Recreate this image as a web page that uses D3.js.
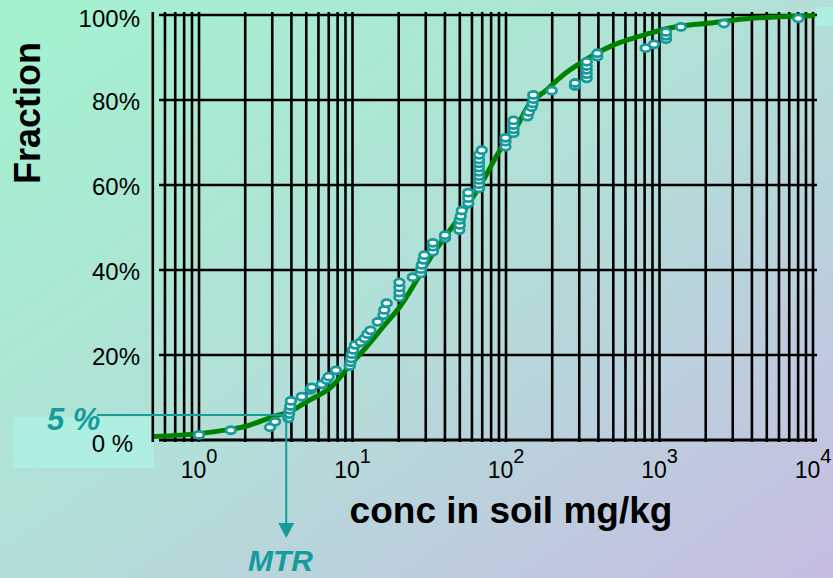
<!DOCTYPE html>
<html>
<head>
<meta charset="utf-8">
<script src="https://cdn.jsdelivr.net/npm/d3@7"></script>
<style>
  body { margin: 0; }
  text { font-family: "Liberation Sans", Arial, sans-serif; }
</style>
</head>
<body>
<script>
// measured concentrations (mg/kg) and their cumulative fraction
var pointConc = [1.0, 1.61, 2.9, 3.13, 3.82, 3.86, 3.9, 3.93, 3.97, 4.67, 5.34, 5.42, 6.3, 6.8, 7.0, 7.8,
  9.6, 9.7, 9.8, 9.9, 10.1, 10.4, 11.3, 12.0, 12.5, 13.1, 14.6, 15.9, 16.1, 16.7,
  20.2, 20.2, 20.2, 20.2, 24.7, 27.8, 28.0, 28.3, 29.0, 29.4, 33.4, 33.4, 33.4, 40.1, 40.1,
  49.6, 50.0, 50.0, 50.7, 51.5, 56.8, 56.8, 56.8,
  66.7, 66.7, 66.7, 66.7, 66.7, 66.7, 66.7, 66.7, 66.7, 69.5,
  99.2, 99.2, 99.2, 111.9, 111.9, 111.9, 111.9, 138, 141, 147, 149, 150.6, 150.6, 198.5,
  281.5, 281.5, 335.6, 335.6, 335.6, 335.6, 335.6, 393, 393, 813, 921, 1102, 1102, 1102, 1380, 2630, 8020];
var pointFrac = [0.012, 0.023, 0.030, 0.043, 0.051, 0.061, 0.071, 0.080, 0.092, 0.102, 0.118, 0.124, 0.131, 0.141, 0.149, 0.164,
  0.174, 0.183, 0.192, 0.202, 0.212, 0.224, 0.230, 0.239, 0.249, 0.258, 0.278, 0.294, 0.306, 0.322,
  0.336, 0.347, 0.359, 0.371, 0.383, 0.392, 0.402, 0.412, 0.424, 0.435, 0.443, 0.455, 0.464, 0.475, 0.482,
  0.494, 0.506, 0.518, 0.527, 0.540, 0.557, 0.569, 0.582,
  0.592, 0.602, 0.612, 0.621, 0.631, 0.641, 0.651, 0.660, 0.671, 0.682,
  0.690, 0.702, 0.711, 0.722, 0.731, 0.741, 0.752, 0.761, 0.772, 0.783, 0.792, 0.802, 0.812, 0.822,
  0.833, 0.840, 0.851, 0.861, 0.871, 0.880, 0.890, 0.902, 0.910, 0.922, 0.931, 0.943, 0.951, 0.960, 0.972, 0.980, 0.992];

// fitted distribution (green line)
var curveConc = [0.509, 1.0, 1.59, 2.05, 3.05, 3.91, 5.03, 7.13, 9.63, 12.4, 15.9, 20.4, 26.2, 33.6, 43.2, 55.5,
  71.2, 91.4, 117.4, 143.3, 184, 236, 303, 390, 500, 642, 826, 1059, 1361, 2244, 3700, 6095, 10300];
var curveFrac = [0.008, 0.015, 0.025, 0.033, 0.055, 0.067, 0.090, 0.122, 0.176, 0.220, 0.267, 0.314, 0.376, 0.439, 0.494, 0.549,
  0.612, 0.682, 0.737, 0.792, 0.824, 0.859, 0.886, 0.910, 0.929, 0.943, 0.955, 0.966, 0.974, 0.982, 0.991, 0.996, 0.998];

var yTicks = [0, 0.2, 0.4, 0.6, 0.8, 1];
var yLabels = ["0 %", "20%", "40%", "60%", "80%", "100%"];
var xExps = [0, 1, 2, 3, 4];

var mtrConc = 3.7;
var mtrFrac = 0.059;

var w = 833, h = 578;
var teal = "#169b9b";

var svg = d3.select("body").append("svg")
  .attr("width", w)
  .attr("height", h);

var grad = svg.append("defs").append("linearGradient")
  .attr("id", "bg")
  .attr("x1", "0%").attr("y1", "0%")
  .attr("x2", "100%").attr("y2", "100%");
grad.append("stop").attr("offset", "0%").attr("stop-color", "#a2f3ce");
grad.append("stop").attr("offset", "50%").attr("stop-color", "#b2dfd8");
grad.append("stop").attr("offset", "100%").attr("stop-color", "#c7bde2");

svg.append("rect").attr("width", w).attr("height", h).attr("fill", "url(#bg)");

var x = d3.scaleLog().domain([0.5, 10000]).range([152.8, 813]);
var y = d3.scaleLinear().domain([0, 1]).range([440, 15]);

// pale boxes behind the corner labels
svg.append("rect").attr("x", 13).attr("y", 417).attr("width", 141).attr("height", 51).attr("fill", "#aeefe2");
svg.append("rect").attr("x", 816).attr("y", 7).attr("width", 17).attr("height", 19).attr("fill", "#aeefe2");

// grid
svg.selectAll(".vgrid")
  .data(x.ticks())
  .enter().append("line")
  .attr("x1", function(d) { return x(d); })
  .attr("x2", function(d) { return x(d); })
  .attr("y1", 12)
  .attr("y2", 442)
  .attr("stroke", "#000")
  .attr("stroke-width", 2.6);

svg.selectAll(".hgrid")
  .data(yTicks)
  .enter().append("line")
  .attr("x1", 159)
  .attr("x2", 817)
  .attr("y1", function(d) { return y(d); })
  .attr("y2", function(d) { return y(d); })
  .attr("stroke", "#000")
  .attr("stroke-width", function(d) { return d == 0 ? 3 : 2.6; });

// y labels
svg.selectAll(".ylab")
  .data(yTicks)
  .enter().append("text")
  .attr("x", function(d) { return d == 0 ? 133 : 140; })
  .attr("y", function(d) { return d == 0 ? 452 : Math.max(y(d) + 10, 27); })
  .attr("text-anchor", "end")
  .attr("font-size", 24)
  .attr("fill", "#000")
  .text(function(d, i) { return yLabels[i]; });

// x labels: 10^n
var xl = svg.selectAll(".xlab")
  .data(xExps)
  .enter().append("text")
  .attr("x", function(d) { return x(Math.pow(10, d)); })
  .attr("y", 478)
  .attr("text-anchor", "middle")
  .attr("font-size", 23)
  .attr("fill", "#000");
xl.append("tspan").text("10");
xl.append("tspan").attr("dy", -15).attr("font-size", 20).text(function(d) { return d; });

// axis titles
svg.append("text")
  .attr("transform", "translate(40,113) rotate(-90)")
  .attr("text-anchor", "middle")
  .attr("font-size", 36)
  .attr("font-weight", "bold")
  .text("Fraction");

svg.append("text")
  .attr("x", 511)
  .attr("y", 523)
  .attr("text-anchor", "middle")
  .attr("font-size", 37)
  .attr("font-weight", "bold")
  .text("conc in soil mg/kg");

// fitted curve
var line = d3.line()
  .x(function(d, i) { return x(curveConc[i]); })
  .y(function(d, i) { return y(curveFrac[i]); })
  .curve(d3.curveCatmullRom);

svg.append("path")
  .attr("d", line(curveConc))
  .attr("fill", "none")
  .attr("stroke", "#008200")
  .attr("stroke-width", 5);

// data points
svg.selectAll(".pt")
  .data(pointConc)
  .enter().append("ellipse")
  .attr("cx", function(d) { return x(d); })
  .attr("cy", function(d, i) { return y(pointFrac[i]); })
  .attr("rx", 4.8)
  .attr("ry", 3.5)
  .attr("fill", "#fff")
  .attr("stroke", teal)
  .attr("stroke-width", 2.8);

// MTR annotation
var mx = x(mtrConc), my = y(mtrFrac);
svg.append("line")
  .attr("x1", 97).attr("x2", mx)
  .attr("y1", my).attr("y2", my)
  .attr("stroke", teal).attr("stroke-width", 2);
svg.append("line")
  .attr("x1", mx).attr("x2", mx)
  .attr("y1", my).attr("y2", 524)
  .attr("stroke", teal).attr("stroke-width", 2);
svg.append("path")
  .attr("d", "M" + (mx - 8) + ",523L" + (mx + 8) + ",523L" + mx + ",538Z")
  .attr("fill", teal);

svg.append("text")
  .attr("x", 47).attr("y", 430)
  .attr("font-size", 31)
  .attr("font-weight", "bold")
  .attr("font-style", "italic")
  .attr("fill", teal)
  .text("5 %");

svg.append("text")
  .attr("x", 248).attr("y", 571)
  .attr("font-size", 30)
  .attr("font-weight", "bold")
  .attr("font-style", "italic")
  .attr("fill", teal)
  .text("MTR");
</script>
</body>
</html>
